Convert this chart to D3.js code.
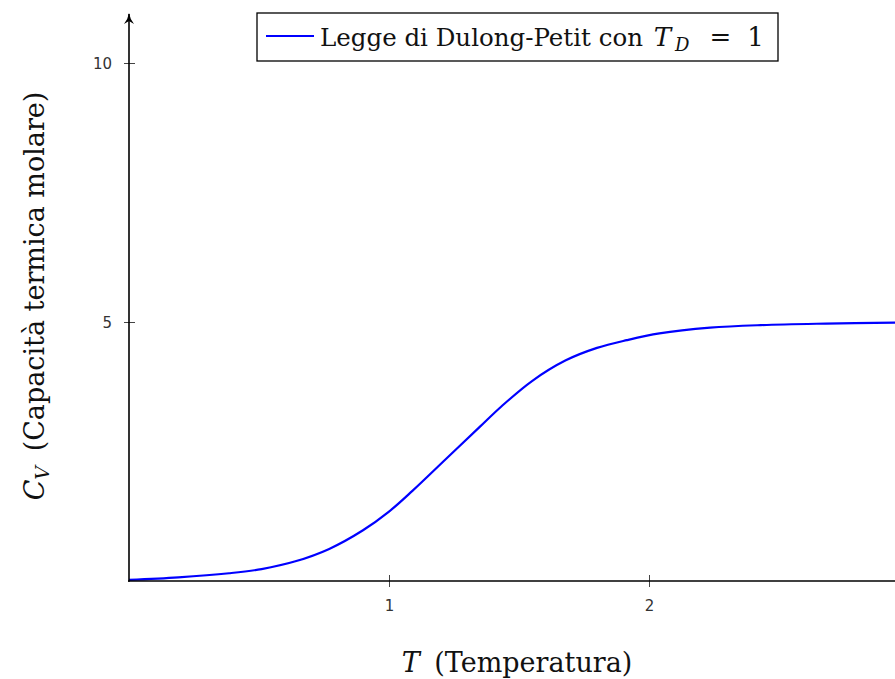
<!DOCTYPE html>
<html>
<head>
<meta charset="utf-8">
<script src="https://cdn.jsdelivr.net/npm/d3@7"></script>
<style>
  body { margin: 0; background: #fff; }
  svg { display: block; }
</style>
</head>
<body>
<script>
// Molar heat capacity against temperature (Dulong-Petit limit, T_D = 1)
const temperature  = [0, 0.19, 0.385, 0.51, 0.64, 0.77, 0.90, 1.00, 1.09, 1.22, 1.35, 1.43, 1.55, 1.68, 1.80, 1.915, 2.04, 2.235, 2.43, 2.68, 2.95];
const heatCapacity = [0.02, 0.07, 0.15, 0.23, 0.38, 0.62, 0.98, 1.34, 1.74, 2.36, 2.98, 3.36, 3.86, 4.26, 4.50, 4.65, 4.78, 4.89, 4.94, 4.97, 4.99];
const xTicks = [1, 2];
const yTicks = [5, 10];

const W = 895, H = 679;
const serif = "'DejaVu Serif', serif";
const sans = "'DejaVu Sans', sans-serif";

const svg = d3.select("body").append("svg")
  .attr("width", W).attr("height", H)
  .attr("viewBox", `0 0 ${W} ${H}`);

const x = d3.scaleLinear().domain([0, 3]).range([129, 909]);
const y = d3.scaleLinear().domain([0, 10]).range([581, 63]);

// arrow head for the vertical axis
svg.append("defs").append("marker")
  .attr("id", "arrow")
  .attr("viewBox", "0 0 12 12")
  .attr("refX", 10).attr("refY", 6)
  .attr("markerWidth", 12).attr("markerHeight", 12)
  .attr("markerUnits", "userSpaceOnUse")
  .attr("orient", "auto")
  .append("path")
  .attr("d", "M0,1 Q5,5 11,6 Q5,7 0,11 L3,6 Z")
  .attr("fill", "#000");

// curve
const data = temperature.map((t, i) => ({ t, c: heatCapacity[i] }));
const line = d3.line()
  .x(d => x(d.t))
  .y(d => y(d.c))
  .curve(d3.curveCatmullRom.alpha(0.5));

svg.append("path")
  .datum(data)
  .attr("d", line)
  .attr("fill", "none")
  .attr("stroke", "#0000ff")
  .attr("stroke-width", 2.2);

// x axis with crossing ticks
const xAxis = svg.append("g")
  .attr("transform", `translate(0,${y(0)})`)
  .call(d3.axisBottom(x).tickValues(xTicks).tickFormat(d3.format("d")));
xAxis.select(".domain").remove();
xAxis.selectAll(".tick line")
  .attr("y1", -6).attr("y2", 6)
  .attr("stroke", "#444").attr("stroke-width", 1);
xAxis.selectAll(".tick text")
  .attr("y", 25).attr("dy", "0.35em")
  .attr("font-family", sans).attr("font-size", 15)
  .attr("fill", "#333");

// y axis with crossing ticks
const yAxis = svg.append("g")
  .attr("transform", `translate(${x(0)},0)`)
  .call(d3.axisLeft(y).tickValues(yTicks).tickFormat(d3.format("d")));
yAxis.select(".domain").remove();
yAxis.selectAll(".tick line")
  .attr("x1", -5).attr("x2", 6)
  .attr("stroke", "#444").attr("stroke-width", 1);
yAxis.selectAll(".tick text")
  .attr("x", -17).attr("dy", "0.35em")
  .attr("font-family", sans).attr("font-size", 15)
  .attr("fill", "#333");

// axis lines
svg.append("line")
  .attr("x1", x(0) - 1).attr("x2", W)
  .attr("y1", y(0)).attr("y2", y(0))
  .attr("stroke", "#000").attr("stroke-width", 1.6);
svg.append("line")
  .attr("x1", x(0)).attr("x2", x(0))
  .attr("y1", y(0) + 0.8).attr("y2", 14)
  .attr("stroke", "#000").attr("stroke-width", 1.6)
  .attr("marker-end", "url(#arrow)");

// x axis title
const xt = svg.append("text")
  .attr("x", 517).attr("y", 672)
  .attr("text-anchor", "middle")
  .attr("font-family", serif).attr("font-size", 27)
  .attr("fill", "#111");
xt.append("tspan").attr("font-style", "italic").text("T");
xt.append("tspan").attr("dx", 6).text(" (Temperatura)");

// y axis title
const yt = svg.append("text")
  .attr("transform", "translate(44,296) rotate(-90)")
  .attr("text-anchor", "middle")
  .attr("font-family", serif).attr("font-size", 27)
  .attr("fill", "#111");
yt.append("tspan").attr("font-style", "italic").text("C");
yt.append("tspan").attr("font-style", "italic").attr("font-size", 19).attr("dy", 5).text("V");
yt.append("tspan").attr("dy", -5).attr("dx", 6).text(" (Capacità termica molare)");

// legend
const legend = svg.append("g");
legend.append("rect")
  .attr("x", 257).attr("y", 13)
  .attr("width", 521).attr("height", 48)
  .attr("fill", "#fff").attr("stroke", "#000").attr("stroke-width", 1.3);
legend.append("line")
  .attr("x1", 266).attr("x2", 314)
  .attr("y1", 36).attr("y2", 36)
  .attr("stroke", "#0000ff").attr("stroke-width", 2);
const lt = legend.append("text")
  .attr("x", 320).attr("y", 46)
  .attr("font-family", serif).attr("font-size", 24.5)
  .attr("fill", "#111");
lt.append("tspan").text("Legge di Dulong-Petit con ");
lt.append("tspan").attr("font-style", "italic").attr("font-size", 26).attr("dx", 3).text("T");
lt.append("tspan").attr("font-style", "italic").attr("font-size", 18).attr("dx", 4).attr("dy", 5).text("D");
lt.append("tspan").attr("dy", -5).attr("dx", 20).attr("font-size", 26).text("=");
lt.append("tspan").attr("dx", 16).attr("font-size", 26).text("1");
</script>
</body>
</html>
